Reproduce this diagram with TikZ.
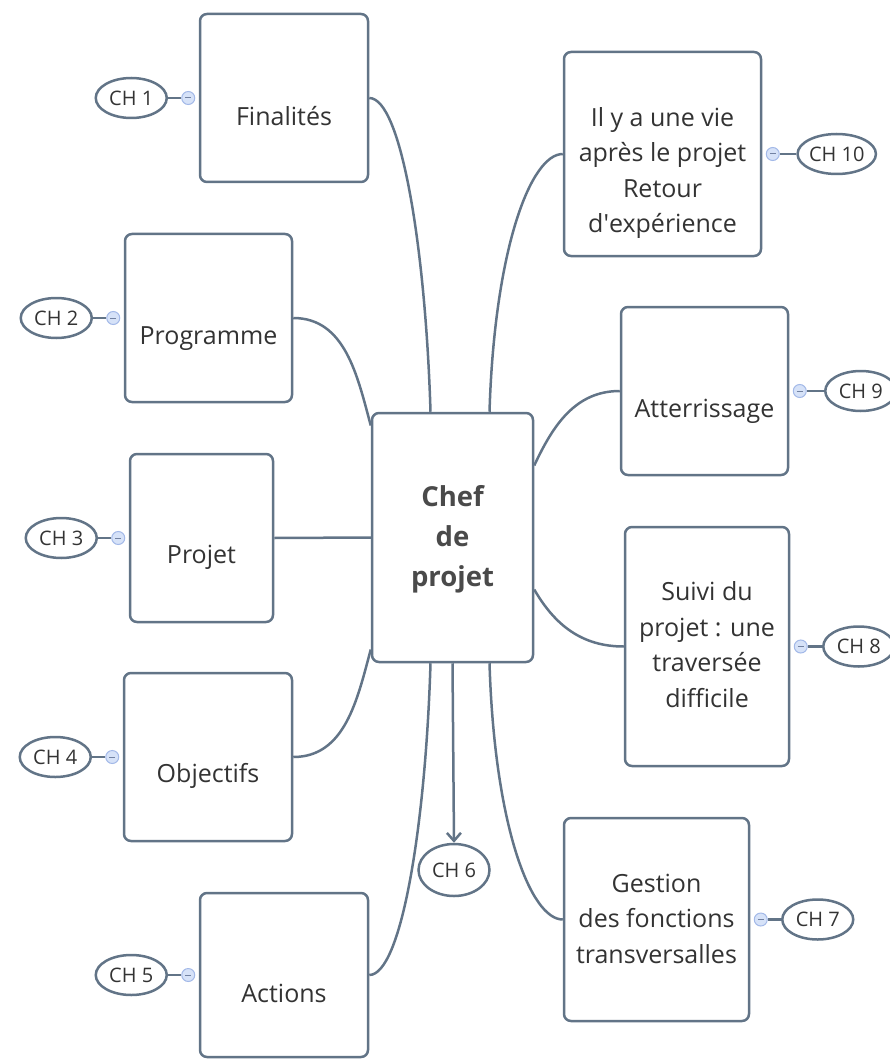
\documentclass[tikz,border=0pt]{standalone}
\usepackage{fontspec}
\setmainfont{Open Sans}
\usetikzlibrary{shapes.geometric,arrows.meta}
\definecolor{edge}{HTML}{627487}
\definecolor{ink}{HTML}{333333}
\definecolor{hubink}{HTML}{4A4A4A}
\definecolor{markfill}{HTML}{D6E2F8}
\definecolor{markdraw}{HTML}{A3B9E8}
\begin{document}
\begin{tikzpicture}[x=1pt,y=-1pt,
  topic/.style={draw=edge, line width=2.5pt, rounded corners=7pt, fill=white, inner sep=0pt},
  topictext/.style={align=center, text=ink, inner sep=0pt, font=\fontsize{25}{35.5}\selectfont},
  hub/.style={topic, align=center, text=hubink, font=\fontsize{27.5}{40}\selectfont\bfseries},
  chap/.style={ellipse, draw=edge, line width=2.5pt, fill=white, text=ink,
    font=\fontsize{20}{22}\selectfont, inner sep=0pt, minimum width=71pt, minimum height=40pt},
  fold/.style={circle, draw=markdraw, fill=markfill, line width=1pt, minimum size=13pt, inner sep=0pt,
    path picture={\draw[markdraw!70!black, line width=1pt]
      ([xshift=-3pt]path picture bounding box.center) -- ([xshift=3pt]path picture bounding box.center);}},
  link/.style={draw=edge, line width=2.5pt},
]
\useasboundingbox (0,0) rectangle (890,1059);

% central topic
\node[hub, minimum width=161pt, minimum height=249pt,
  label={[hub, draw=none, fill=none, yshift=-2pt]center:Chef\\de\\projet}] (hub) at (452.5,537.5) {};

% left branch
\node[topic, minimum width=168pt, minimum height=168pt,
  label={[topictext, yshift=-18pt]center:Finalités}] (fin) at (284,98) {};
\node[topic, minimum width=167pt, minimum height=168pt,
  label={[topictext, yshift=-21pt]center:Programme}] (prog) at (208.5,318) {};
\node[topic, minimum width=143pt, minimum height=168pt,
  label={[topictext, yshift=-19pt]center:Projet}] (proj) at (201.5,538) {};
\node[topic, minimum width=168pt, minimum height=168pt,
  label={[topictext, yshift=-19pt]center:Objectifs}] (obj) at (208,757) {};
\node[topic, minimum width=168pt, minimum height=164pt,
  label={[topictext, yshift=-18pt]center:Actions}] (act) at (284,975) {};

% right branch
\node[topic, minimum width=197pt, minimum height=204pt,
  label={[topictext, yshift=-19pt]center:Il y a une vie\\après le projet\\Retour\\d\textquotesingle expérience}] (vie) at (662.5,154) {};
\node[topic, minimum width=167pt, minimum height=168pt,
  label={[topictext, yshift=-20pt]center:Atterrissage}] (att) at (704.5,391) {};
\node[topic, minimum width=164pt, minimum height=239pt,
  label={[topictext, yshift=2pt]center:Suivi du\\projet : une\\traversée\\difficile}] (suivi) at (707,646.5) {};
\node[topic, minimum width=185pt, minimum height=203pt,
  label={[topictext, yshift=1pt]center:Gestion\\des fonctions\\transversalles}] (gest) at (656.5,919.5) {};

% chapter under the hub
\node[chap, minimum height=52pt] (ch6) at (454,870) {CH 6};

% connectors from the hub
\draw[link] ([xshift=-22pt]hub.north) .. controls +(-5,-163) and +(32,0) .. (fin.east);
\draw[link] ([yshift=112pt]hub.west) to[out=105,in=0] (prog.east);
\draw[link] (hub.west) -- (proj.east);
\draw[link] ([yshift=-112pt]hub.west) to[out=-105,in=0] (obj.east);
\draw[link] ([xshift=-22pt]hub.south) .. controls +(-5,163) and +(32,0) .. (act.east);
\draw[link, -{Straight Barb[length=8pt,width=14pt,line width=2.5pt]}] (hub.south) -- (ch6.north);
\draw[link] ([xshift=37pt]hub.north) .. controls +(5,-163) and +(-32,0) .. (vie.west);
\draw[link] ([yshift=72pt]hub.east) to[out=65,in=180] (att.west);
\draw[link] ([yshift=-52pt]hub.east) to[out=-60,in=180] (suivi.west);
\draw[link] ([xshift=37pt]hub.south) .. controls +(5,163) and +(-32,0) .. (gest.west);

% fold markers and chapter tags
\foreach \bx/\tag/\txt in {fin/ch1/CH 1, prog/ch2/CH 2, proj/ch3/CH 3, obj/ch4/CH 4, act/ch5/CH 5}{
  \node[fold] (\bx-f) at ([xshift=-10.5pt]\bx.west) {};
  \node[chap] (\tag) at ([xshift=-57pt]\bx-f.center) {\txt};
  \draw[link] (\tag) -- (\bx-f);
}
\foreach \bx/\tag/\txt/\d in {vie/ch10/CH 10/64, att/ch9/CH 9/61, suivi/ch8/CH 8/58, gest/ch7/CH 7/57}{
  \node[fold] (\bx-f) at ([xshift=10.5pt]\bx.east) {};
  \node[chap] (\tag) at ([xshift=\d pt]\bx-f.center) {\txt};
  \draw[link] (\tag) -- (\bx-f);
}
\end{tikzpicture}
\end{document}
